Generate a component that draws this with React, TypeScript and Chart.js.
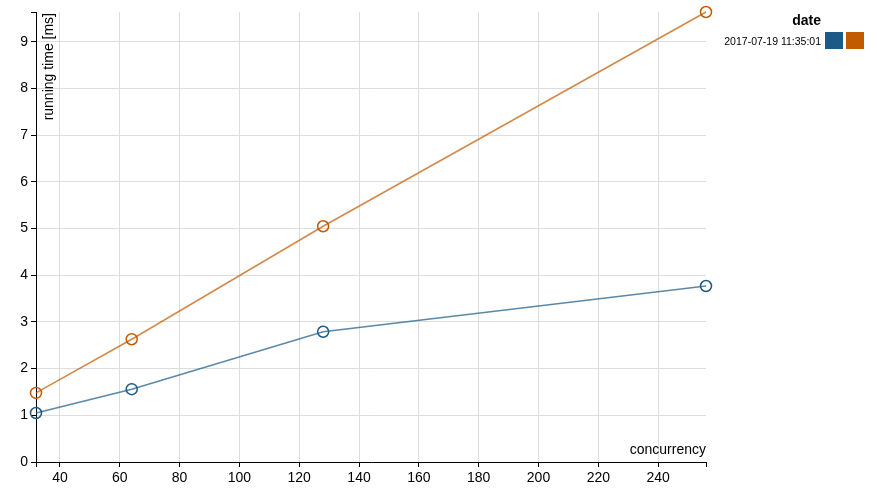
import React, { useEffect, useRef } from "react";
import { Chart, registerables } from "chart.js";

Chart.register(...registerables);

const concurrency = [32, 64, 128, 256];
const seriesBlue = [1.05, 1.56, 2.79, 3.77];
const seriesOrange = [1.48, 2.63, 5.05, 9.64];
const xTickValues = [40, 60, 80, 100, 120, 140, 160, 180, 200, 220, 240];
const yTickValues = [0, 1, 2, 3, 4, 5, 6, 7, 8, 9];
const xDomain = [32, 256];
const yDomain = [0, 9.64];
const legendTitle = "date";
const legendLabel = "2017-07-19 11:35:01";
const xTitle = "concurrency";
const yTitle = "running time [ms]";

const BLUE = "#1b5a86";
const ORANGE = "#c25a00";
const FONT = "'Liberation Sans', Arial, sans-serif";

const overlayPlugin = {
  id: "overlay",
  afterDraw(chart: any) {
    const ctx = chart.ctx;
    const area = chart.chartArea;
    ctx.save();
    ctx.fillStyle = "#000";
    // x title
    ctx.font = `14px ${FONT}`;
    ctx.textAlign = "right";
    ctx.textBaseline = "alphabetic";
    ctx.fillText(xTitle, area.right, area.bottom - 8);
    // y title
    ctx.save();
    ctx.translate(area.left + 16.5, area.top + 1);
    ctx.rotate(-Math.PI / 2);
    ctx.textAlign = "right";
    ctx.textBaseline = "alphabetic";
    ctx.fillText(yTitle, 0, 0);
    ctx.restore();
    // legend
    ctx.font = `bold 14px ${FONT}`;
    ctx.textAlign = "right";
    ctx.fillText(legendTitle, 821, 25);
    ctx.font = `10.5px ${FONT}`;
    ctx.fillText(legendLabel, 821, 45);
    ctx.fillStyle = BLUE;
    ctx.fillRect(825, 32, 18, 17);
    ctx.fillStyle = ORANGE;
    ctx.fillRect(846, 32, 18, 17);
    ctx.restore();
  },
};

export default function App() {
  const ref = useRef<HTMLCanvasElement>(null);
  useEffect(() => {
    if (!ref.current) return;
    const chart = new Chart(ref.current, {
      type: "line",
      data: {
        labels: concurrency,
        datasets: [
          {
            data: concurrency.map((x, i) => ({ x, y: seriesBlue[i] })),
            borderColor: "rgba(27,90,134,0.72)",
            borderWidth: 1.5,
            pointBorderColor: BLUE,
            pointBackgroundColor: "rgba(0,0,0,0)",
            pointRadius: 5.5,
            pointBorderWidth: 1.5,
            tension: 0,
            fill: false,
            clip: false,
          },
          {
            data: concurrency.map((x, i) => ({ x, y: seriesOrange[i] })),
            borderColor: "rgba(194,90,0,0.72)",
            borderWidth: 1.5,
            pointBorderColor: ORANGE,
            pointBackgroundColor: "rgba(0,0,0,0)",
            pointRadius: 5.5,
            pointBorderWidth: 1.5,
            tension: 0,
            fill: false,
            clip: false,
          },
        ],
      },
      options: {
        responsive: false,
        animation: false,
        layout: { padding: { left: 0, top: 12, right: 171, bottom: 0 } },
        plugins: { legend: { display: false }, tooltip: { enabled: false } },
        scales: {
          x: {
            type: "linear",
            min: xDomain[0],
            max: xDomain[1],
            afterBuildTicks: (s: any) => {
              s.ticks = [xDomain[0], ...xTickValues, xDomain[1]].map((v) => ({ value: v }));
            },
            afterFit: (s: any) => {
              s.height = 32;
            },
            ticks: {
              autoSkip: false,
              maxRotation: 0,
              color: "#000",
              font: { family: FONT, size: 14 },
              padding: 3,
              callback: (v: any) => (xTickValues.includes(v) ? String(v) : ""),
            },
            grid: {
              color: (c: any) =>
                c.tick && xTickValues.includes(c.tick.value) ? "#dddddd" : "rgba(0,0,0,0)",
              tickColor: "#000",
              tickLength: 5,
              lineWidth: 1,
            },
            border: { display: true, color: "#000", width: 1 },
          },
          y: {
            type: "linear",
            min: yDomain[0],
            max: yDomain[1],
            afterBuildTicks: (s: any) => {
              s.ticks = [...yTickValues, yDomain[1]].map((v) => ({ value: v }));
            },
            afterFit: (s: any) => {
              s.width = 36;
            },
            ticks: {
              autoSkip: false,
              color: "#000",
              font: { family: FONT, size: 14 },
              padding: 3,
              callback: (v: any) => (yTickValues.includes(v) ? String(v) : ""),
            },
            grid: {
              color: (c: any) =>
                c.tick && yTickValues.includes(c.tick.value) ? "#dddddd" : "rgba(0,0,0,0)",
              tickColor: "#000",
              tickLength: 5,
              lineWidth: 1,
            },
            border: { display: true, color: "#000", width: 1 },
          },
        },
      },
      plugins: [overlayPlugin],
    } as any);
    return () => chart.destroy();
  }, []);
  return (
    <div style={{ position: "absolute", left: 0, top: 0, width: 877, height: 494 }}>
      <canvas ref={ref} width={877} height={494} style={{ width: 877, height: 494 }} />
    </div>
  );
}
